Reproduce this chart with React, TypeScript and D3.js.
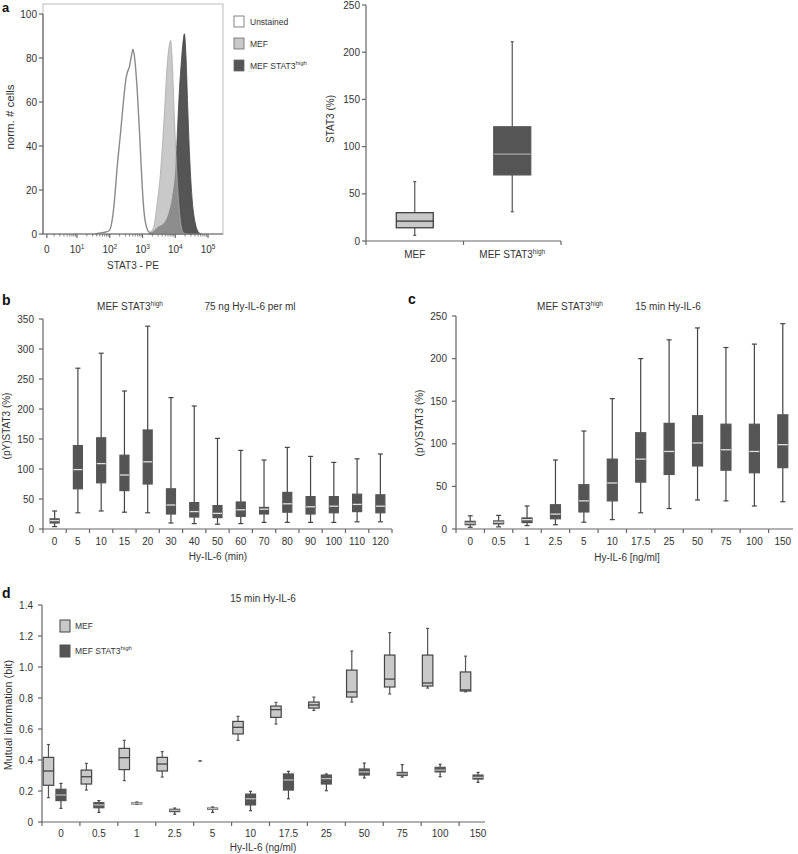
import React from 'react';
import * as d3 from 'd3';

const FONT = '"Liberation Sans", Arial, Helvetica, sans-serif';
const TXT = '#333';
const AX = '#666';
const LIGHT = '#c9c9c9';
const DARK = '#555';

// ---------- Panel a (left): flow histogram, [log10 STAT3-PE, norm. # cells]
const unstainedHist: [number, number][] = [
  [1.55, 0], [1.7, 0.5], [1.85, 0.8], [1.98, 1.5], [2.07, 6], [2.13, 13], [2.23, 31], [2.33, 46],
  [2.43, 62], [2.5, 71], [2.55, 74], [2.6, 76], [2.65, 80], [2.71, 84], [2.76, 80], [2.84, 65],
  [2.92, 43], [2.99, 22], [3.07, 7], [3.19, 1], [3.34, 0],
];
const mefHist: [number, number][] = [
  [3.15, 0], [3.24, 1], [3.34, 3], [3.44, 13], [3.55, 28], [3.62, 43], [3.68, 58], [3.74, 74],
  [3.8, 84], [3.86, 88], [3.91, 78], [3.96, 58], [4.01, 40], [4.07, 22], [4.15, 7], [4.25, 0.5], [4.35, 0],
];
const highHist: [number, number][] = [
  [3.2, 0], [3.27, 0.5], [3.47, 3], [3.67, 5], [3.82, 10], [3.92, 17], [4.02, 31], [4.08, 51],
  [4.13, 66], [4.18, 77], [4.23, 86], [4.28, 91], [4.33, 80], [4.38, 58], [4.44, 35], [4.52, 15],
  [4.61, 5], [4.73, 0.5], [4.8, 0],
];
const histXTicks = [
  { pos: 0.08, base: '0', sup: '' },
  { pos: 1, base: '10', sup: '1' },
  { pos: 2, base: '10', sup: '2' },
  { pos: 3, base: '10', sup: '3' },
  { pos: 4, base: '10', sup: '4' },
  { pos: 5, base: '10', sup: '5' },
];
const histYTicks = [0, 20, 40, 60, 80, 100];
const histLegend = ['Unstained', 'MEF', 'MEF STAT3'];

// ---------- Panel a (right): STAT3 (%)
const stat3Cats = ['MEF', 'MEF STAT3'];
const stat3Min = [6, 31];
const stat3Q1 = [14, 70];
const stat3Med = [21, 92];
const stat3Q3 = [30, 121];
const stat3Max = [63, 211];
const stat3Ticks = [0, 50, 100, 150, 200, 250];

// ---------- Panel b: (pY)STAT3 (%) over time
const timeCats = ['0', '5', '10', '15', '20', '30', '40', '50', '60', '70', '80', '90', '100', '110', '120'];
const timeMin = [4, 27, 30, 28, 27, 10, 9, 8, 9, 11, 11, 11, 11, 12, 12];
const timeQ1 = [10, 67, 77, 64, 75, 25, 20, 19, 21, 25, 28, 25, 27, 29, 27];
const timeMed = [14, 99, 109, 90, 112, 40, 29, 26, 32, 33, 42, 37, 38, 41, 38];
const timeQ3 = [17, 139, 152, 123, 165, 67, 44, 39, 45, 36, 61, 54, 54, 58, 57];
const timeMax = [30, 268, 293, 230, 338, 219, 205, 151, 131, 115, 136, 121, 111, 117, 125];
const timeTicks = [0, 50, 100, 150, 200, 250, 300, 350];

// ---------- Panel c: (pY)STAT3 (%) over dose
const doseCats = ['0', '0.5', '1', '2.5', '5', '10', '17.5', '25', '50', '75', '100', '150'];
const doseMin = [2, 2.5, 4, 5, 8, 11, 19, 24, 34, 33, 27, 32];
const doseQ1 = [5, 6, 7.5, 12, 20, 33, 55, 64, 74, 69, 66, 72];
const doseMed = [7, 8, 11, 17.5, 33, 54, 82, 91, 101, 93, 91, 99];
const doseQ3 = [9, 9.5, 13, 28.5, 52, 82, 113, 124, 133, 123, 123, 134];
const doseMax = [15.5, 16, 27, 81, 115, 153, 200, 222, 236, 213, 217, 241];
const doseTicks = [0, 50, 100, 150, 200, 250];

// ---------- Panel d: mutual information (bit)
const miMefMin = [0.157, 0.206, 0.267, 0.29, 0.394, 0.527, 0.632, 0.72, 0.774, 0.826, 0.864, 0.84];
const miMefQ1 = [0.237, 0.245, 0.338, 0.329, 0.394, 0.568, 0.675, 0.735, 0.806, 0.871, 0.877, 0.845];
const miMefMed = [0.329, 0.292, 0.415, 0.374, 0.394, 0.611, 0.725, 0.755, 0.839, 0.922, 0.897, 0.852];
const miMefQ3 = [0.417, 0.335, 0.475, 0.417, 0.394, 0.649, 0.748, 0.774, 0.98, 1.077, 1.077, 0.968];
const miMefMax = [0.5, 0.378, 0.527, 0.454, 0.394, 0.682, 0.772, 0.806, 1.103, 1.222, 1.249, 1.07];
const miHighMin = [0.088, 0.062, 0.114, 0.05, 0.062, 0.073, 0.15, 0.202, 0.284, 0.29, 0.292, 0.256];
const miHighQ1 = [0.138, 0.092, 0.117, 0.067, 0.082, 0.11, 0.206, 0.245, 0.303, 0.3, 0.323, 0.277];
const miHighMed = [0.174, 0.11, 0.12, 0.075, 0.086, 0.15, 0.271, 0.28, 0.323, 0.31, 0.335, 0.288];
const miHighQ3 = [0.211, 0.125, 0.123, 0.082, 0.09, 0.18, 0.31, 0.303, 0.342, 0.32, 0.353, 0.303];
const miHighMax = [0.249, 0.138, 0.129, 0.09, 0.097, 0.198, 0.327, 0.31, 0.38, 0.37, 0.372, 0.32];
const miTicks = [0, 0.2, 0.4, 0.6, 0.8, 1.0, 1.2, 1.4];
const miLegend = ['MEF', 'MEF STAT3'];

type Scale = (v: number) => number;

function BoxMark(p: {
  x: number; w: number; y: Scale; min: number; q1: number; med: number; q3: number; max: number;
  fill: string; stroke: string; medColor: string; whisker: string; cap: number;
}) {
  const { x, w, y } = p;
  const flat = p.q3 - p.q1 <= 0;
  return (
    <g>
      <line x1={x} x2={x} y1={y(p.max)} y2={y(p.q3)} stroke={p.whisker} strokeWidth={1.2} />
      <line x1={x} x2={x} y1={y(p.q1)} y2={y(p.min)} stroke={p.whisker} strokeWidth={1.2} />
      <line x1={x - p.cap} x2={x + p.cap} y1={y(p.max)} y2={y(p.max)} stroke={p.whisker} strokeWidth={1.2} />
      <line x1={x - p.cap} x2={x + p.cap} y1={y(p.min)} y2={y(p.min)} stroke={p.whisker} strokeWidth={1.2} />
      {flat ? null : (
        <>
          <rect x={x - w / 2} y={y(p.q3)} width={w} height={Math.max(1, y(p.q1) - y(p.q3))}
            fill={p.fill} stroke={p.stroke} strokeWidth={1.2} />
          <line x1={x - w / 2} x2={x + w / 2} y1={y(p.med)} y2={y(p.med)} stroke={p.medColor} strokeWidth={1.3} />
        </>
      )}
    </g>
  );
}

function LeftAxis(p: { x: number; y: d3.ScaleLinear<number, number>; ticks: number[]; gap: number; fmt?: (v: number) => string }) {
  const [r0, r1] = p.y.range();
  return (
    <g>
      <line x1={p.x} x2={p.x} y1={r0} y2={r1} stroke={AX} strokeWidth={1.2} />
      {p.ticks.map((t) => (
        <g key={t}>
          <line x1={p.x - 4} x2={p.x} y1={p.y(t)} y2={p.y(t)} stroke={AX} strokeWidth={1.2} />
          <text x={p.x - p.gap} y={p.y(t)} dy="0.35em" textAnchor="end" fontSize={10} fill={TXT}>
            {p.fmt ? p.fmt(t) : String(t)}
          </text>
        </g>
      ))}
    </g>
  );
}

function BandAxis(p: { x: d3.ScaleBand<string>; y0: number; end?: number; labelY: number; sup?: string }) {
  const dom = p.x.domain();
  const [a, b] = p.x.range();
  const bw = p.x.bandwidth();
  const bounds = d3.range(dom.length + 1).map((i) => a + i * bw).filter((v) => v <= (p.end ?? b) + 0.5);
  return (
    <g>
      <line x1={a} x2={p.end ?? b} y1={p.y0} y2={p.y0} stroke={AX} strokeWidth={1.2} />
      {bounds.map((v, i) => (
        <line key={i} x1={v} x2={v} y1={p.y0} y2={p.y0 + 4} stroke={AX} strokeWidth={1.2} />
      ))}
      {dom.map((c, i) => (
        <text key={c} x={(p.x(c) ?? 0) + bw / 2} y={p.labelY} textAnchor="middle" fontSize={10} fill={TXT}>
          {c}
          {p.sup && i === dom.length - 1 ? <tspan dy={-4} fontSize={6.5}>{p.sup}</tspan> : null}
        </text>
      ))}
    </g>
  );
}

function PanelHist() {
  const x = d3.scaleLinear().domain([1, 5]).range([77, 208]);
  const y = d3.scaleLinear().domain([0, 100]).range([234, 14]);
  const area = d3.area<[number, number]>().x((d) => x(d[0])).y0(y(0)).y1((d) => y(d[1])).curve(d3.curveMonotoneX);
  const line = d3.line<[number, number]>().x((d) => x(d[0])).y((d) => y(d[1])).curve(d3.curveMonotoneX);
  const minor: number[] = [];
  for (let k = 0; k < 5; k++) for (let m = 2; m <= 9; m++) minor.push(k + Math.log10(m));
  const legFill = ['#fff', LIGHT, DARK];
  return (
    <g>
      <path d={area(highHist) ?? ''} fill={DARK} stroke="#444" strokeWidth={0.8} />
      <path d={area(mefHist) ?? ''} fill="rgb(172,172,172)" fillOpacity={0.65} stroke="#aaa" strokeWidth={0.8} />
      <path d={line(unstainedHist) ?? ''} fill="none" stroke="#8a8a8a" strokeWidth={1.4} />
      <rect x={43} y={4} width={180} height={230} fill="none" stroke="#aaa" strokeWidth={0.8} />
      <LeftAxis x={43} y={y} ticks={histYTicks} gap={6} />
      <line x1={43} x2={223} y1={234} y2={234} stroke={AX} strokeWidth={1.2} />
      {minor.map((m) => (
        <line key={m} x1={x(m)} x2={x(m)} y1={234} y2={236.5} stroke={AX} strokeWidth={0.8} />
      ))}
      {histXTicks.map((t) => (
        <g key={t.pos}>
          <line x1={x(t.pos)} x2={x(t.pos)} y1={234} y2={238} stroke={AX} strokeWidth={1.2} />
          <text x={x(t.pos)} y={253} textAnchor="middle" fontSize={10} fill={TXT}>
            {t.base}
            {t.sup ? <tspan dy={-4} fontSize={6.5}>{t.sup}</tspan> : null}
          </text>
        </g>
      ))}
      <text x={133} y={269} textAnchor="middle" fontSize={10} fill={TXT}>STAT3 - PE</text>
      <text transform="translate(14,117) rotate(-90)" textAnchor="middle" fontSize={11.5} fill={TXT}>norm. # cells</text>
      {histLegend.map((l, i) => (
        <g key={l}>
          <rect x={234} y={16 + i * 22} width={10} height={11} fill={legFill[i]} stroke="#666" strokeWidth={0.8} />
          <text x={250} y={25 + i * 22} fontSize={8.5} fill={TXT}>
            {l}
            {i === 2 ? <tspan dy={-4} fontSize={6}>high</tspan> : null}
          </text>
        </g>
      ))}
    </g>
  );
}

function PanelStat3() {
  const y = d3.scaleLinear().domain([0, 250]).range([241, 5]);
  const x = d3.scaleBand<string>().domain(stat3Cats).range([366, 561]);
  const bw = x.bandwidth();
  return (
    <g>
      {stat3Cats.map((c, i) => (
        <BoxMark key={c} x={(x(c) ?? 0) + bw / 2} w={37} y={y} min={stat3Min[i]} q1={stat3Q1[i]} med={stat3Med[i]}
          q3={stat3Q3[i]} max={stat3Max[i]} fill={i === 0 ? LIGHT : DARK} stroke={i === 0 ? '#333' : DARK}
          medColor={i === 0 ? '#333' : '#aaa'} whisker="#555" cap={1.5} />
      ))}
      <LeftAxis x={366} y={y} ticks={stat3Ticks} gap={6} />
      <BandAxis x={x} y0={241} labelY={258} sup="high" />
      <text transform="translate(334,119) rotate(-90)" textAnchor="middle" fontSize={10} fill={TXT}>STAT3 (%)</text>
    </g>
  );
}

function PanelTime() {
  const y = d3.scaleLinear().domain([0, 350]).range([529, 319]);
  const x = d3.scaleBand<string>().domain(timeCats).range([43, 392]);
  const bw = x.bandwidth();
  return (
    <g>
      {timeCats.map((c, i) => (
        <BoxMark key={c} x={(x(c) ?? 0) + bw / 2} w={9} y={y} min={timeMin[i]} q1={timeQ1[i]} med={timeMed[i]}
          q3={timeQ3[i]} max={timeMax[i]} fill={DARK} stroke={DARK} medColor="#ddd" whisker="#444" cap={2.5} />
      ))}
      <LeftAxis x={43} y={y} ticks={timeTicks} gap={9} />
      <BandAxis x={x} y0={529} labelY={545} />
      <text x={218} y={560} textAnchor="middle" fontSize={10} fill={TXT}>Hy-IL-6 (min)</text>
      <text transform="translate(10,426) rotate(-90)" textAnchor="middle" fontSize={10} fill={TXT}>(pY)STAT3 (%)</text>
      <text x={130} y={310} textAnchor="middle" fontSize={10} fill={TXT}>MEF STAT3<tspan dy={-4} fontSize={6.5}>high</tspan></text>
      <text x={250} y={310} textAnchor="middle" fontSize={10} fill={TXT}>75 ng Hy-IL-6 per ml</text>
    </g>
  );
}

function PanelDose() {
  const y = d3.scaleLinear().domain([0, 250]).range([529, 316]);
  const x = d3.scaleBand<string>().domain(doseCats).range([456, 797]);
  const bw = x.bandwidth();
  return (
    <g>
      {doseCats.map((c, i) => (
        <BoxMark key={c} x={(x(c) ?? 0) + bw / 2} w={10} y={y} min={doseMin[i]} q1={doseQ1[i]} med={doseMed[i]}
          q3={doseQ3[i]} max={doseMax[i]} fill={DARK} stroke={DARK} medColor="#ddd" whisker="#444" cap={2.5} />
      ))}
      <LeftAxis x={456} y={y} ticks={doseTicks} gap={9} />
      <BandAxis x={x} y0={529} end={793} labelY={545} />
      <text x={627} y={561} textAnchor="middle" fontSize={10} fill={TXT}>Hy-IL-6 [ng/ml]</text>
      <text transform="translate(423,423) rotate(-90)" textAnchor="middle" fontSize={10} fill={TXT}>(pY)STAT3 (%)</text>
      <text x={570} y={310} textAnchor="middle" fontSize={10} fill={TXT}>MEF STAT3<tspan dy={-4} fontSize={6.5}>high</tspan></text>
      <text x={668} y={310} textAnchor="middle" fontSize={10} fill={TXT}>15 min Hy-IL-6</text>
    </g>
  );
}

function PanelMI() {
  const y = d3.scaleLinear().domain([0, 1.4]).range([822, 605]);
  const x = d3.scaleBand<string>().domain(doseCats).range([42, 497]);
  const bw = x.bandwidth();
  const fmt = (v: number) => (v === 0 ? '0' : d3.format('.1f')(v));
  return (
    <g>
      {doseCats.map((c, i) => {
        const cx = (x(c) ?? 0) + bw / 2;
        return (
          <g key={c}>
            <BoxMark x={cx - 12.5} w={10.5} y={y} min={miMefMin[i]} q1={miMefQ1[i]} med={miMefMed[i]}
              q3={miMefQ3[i]} max={miMefMax[i]} fill={LIGHT} stroke="#444" medColor="#444" whisker="#555" cap={1.5} />
            <BoxMark x={cx} w={10} y={y} min={miHighMin[i]} q1={miHighQ1[i]} med={miHighMed[i]}
              q3={miHighQ3[i]} max={miHighMax[i]} fill={DARK} stroke={DARK} medColor="#bbb" whisker="#444" cap={1.5} />
          </g>
        );
      })}
      <LeftAxis x={42} y={y} ticks={miTicks} gap={9} fmt={fmt} />
      <BandAxis x={x} y0={822} end={485} labelY={837} />
      <text x={263} y={851} textAnchor="middle" fontSize={10} fill={TXT}>Hy-IL-6 (ng/ml)</text>
      <text transform="translate(12,715) rotate(-90)" textAnchor="middle" fontSize={10.8} fill={TXT}>Mutual information (bit)</text>
      <text x={263} y={602} textAnchor="middle" fontSize={10} fill={TXT}>15 min Hy-IL-6</text>
      {miLegend.map((l, i) => (
        <g key={l}>
          <rect x={60} y={620 + i * 25} width={10} height={12} fill={i === 0 ? LIGHT : DARK}
            stroke={i === 0 ? '#444' : DARK} strokeWidth={1} />
          <text x={75} y={629 + i * 25} fontSize={8.5} fill={TXT}>
            {l}
            {i === 1 ? <tspan dy={-4} fontSize={6}>high</tspan> : null}
          </text>
        </g>
      ))}
    </g>
  );
}

export default function App() {
  return (
    <svg width={798} height={854} viewBox="0 0 798 854"
      style={{ position: 'absolute', left: 0, top: 0, background: '#fff', fontFamily: FONT }}>
      <rect width={798} height={854} fill="#fff" />
      <PanelHist />
      <PanelStat3 />
      <PanelTime />
      <PanelDose />
      <PanelMI />
      <text x={2} y={12} fontSize={13} fontWeight="bold" fill="#111">a</text>
      <text x={2} y={305} fontSize={14} fontWeight="bold" fill="#111">b</text>
      <text x={408} y={304} fontSize={14} fontWeight="bold" fill="#111">c</text>
      <text x={2} y={598} fontSize={14} fontWeight="bold" fill="#111">d</text>
    </svg>
  );
}
